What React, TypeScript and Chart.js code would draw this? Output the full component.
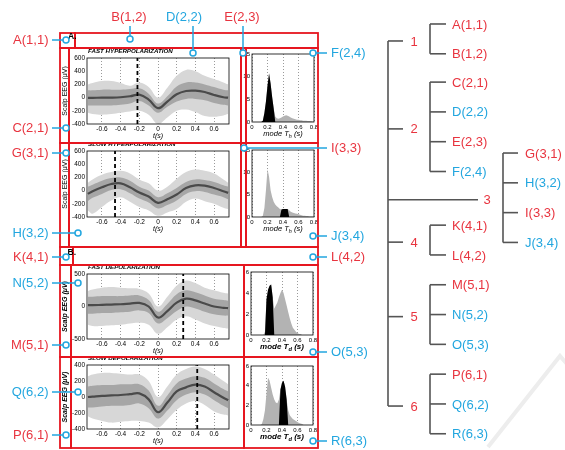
import React, { useEffect, useRef } from 'react';
import { Chart, registerables } from 'chart.js';

Chart.register(...registerables);

const FONT = "'Liberation Sans', Arial, Helvetica, sans-serif";
Chart.defaults.font.family = FONT;
Chart.defaults.color = '#000';

// ---------- waveform panels (time in s, amplitude in µV) ----------
const T = [-0.75, -0.7, -0.6, -0.5, -0.4, -0.3, -0.2, -0.1, 0, 0.1, 0.2, 0.3, 0.4, 0.5, 0.6, 0.7, 0.75];
const T_TICKS = [-0.6, -0.4, -0.2, 0, 0.2, 0.4, 0.6];

// fast hyperpolarization
const FH_MEAN = [-5, -5, 0, 0, 5, 20, 45, -30, -160, -60, 50, 100, 105, 85, 40, 5, 0];
const FH_IN_HI = [110, 110, 120, 120, 120, 130, 140, 60, -90, 20, 170, 230, 230, 200, 160, 120, 110];
const FH_IN_LO = [-120, -120, -120, -120, -110, -90, -50, -120, -230, -140, -60, -20, -20, -40, -80, -110, -120];
const FH_OUT_HI = [200, 220, 250, 250, 220, 180, 230, 160, 0, 150, 330, 420, 400, 330, 280, 230, 200];
const FH_OUT_LO = [-230, -250, -260, -250, -230, -210, -200, -260, -400, -300, -200, -180, -220, -280, -290, -270, -250];
const FH_MARK = -0.22;

// slow hyperpolarization
const SH_MEAN = [-50, -10, 50, 100, 110, 50, -30, -90, -185, -130, -60, 40, 80, 75, 40, -10, -35];
const SH_IN_HI = [60, 90, 150, 190, 200, 150, 60, 0, -100, -40, 40, 130, 170, 160, 130, 80, 60];
const SH_IN_LO = [-160, -110, -50, 10, 20, -40, -120, -180, -270, -220, -150, -50, -10, -20, -60, -100, -130];
const SH_OUT_HI = [120, 170, 240, 280, 300, 260, 170, 110, 0, 60, 180, 280, 320, 300, 260, 170, 120];
const SH_OUT_LO = [-300, -350, -250, -150, -100, -170, -250, -300, -380, -330, -280, -170, -120, -160, -200, -260, -280];
const SH_MARK = -0.46;

// fast depolarization
const FD_MEAN = [20, 20, 25, 30, 35, 45, 55, 0, -170, -70, 60, 120, 95, 45, 0, -20, -25];
const FD_IN_HI = [150, 150, 160, 160, 160, 170, 170, 100, -80, 40, 190, 250, 220, 170, 120, 100, 90];
const FD_IN_LO = [-110, -110, -100, -100, -90, -80, -60, -100, -260, -180, -70, 0, -30, -80, -120, -140, -140];
const FD_OUT_HI = [240, 260, 290, 300, 290, 280, 270, 200, 0, 150, 320, 400, 360, 290, 250, 210, 200];
const FD_OUT_LO = [-280, -300, -300, -290, -280, -260, -250, -280, -420, -320, -200, -150, -200, -260, -300, -330, -340];
const FD_MARK = 0.27;

// slow depolarization
const SD_MEAN = [0, 5, 15, 20, 25, 35, 45, -30, -190, -70, 70, 120, 155, 130, 60, -10, -40];
const SD_IN_HI = [130, 140, 150, 150, 160, 160, 160, 80, -110, 20, 170, 230, 260, 240, 170, 100, 70];
const SD_IN_LO = [-130, -130, -120, -110, -110, -100, -80, -140, -270, -170, -40, 30, 60, 30, -40, -110, -140];
const SD_OUT_HI = [260, 280, 300, 300, 290, 280, 280, 200, 0, 130, 280, 350, 380, 350, 280, 200, 160];
const SD_OUT_LO = [-240, -270, -300, -320, -310, -300, -300, -320, -380, -280, -160, -80, -50, -100, -180, -220, -230];
const SD_MARK = 0.42;

const Y_TICKS_HYPER = [-400, -200, 0, 200, 400, 600];
const Y_TICKS_FD = [-500, 0, 500];
const Y_TICKS_SD = [-400, -200, 0, 200, 400];

// ---------- histograms of mode T (s) ----------
const HB = [0, 0.02, 0.04, 0.06, 0.08, 0.1, 0.12, 0.14, 0.16, 0.18, 0.2, 0.22, 0.24, 0.26, 0.28, 0.3, 0.32, 0.34, 0.36, 0.38, 0.4, 0.42, 0.44, 0.46, 0.48, 0.5, 0.52, 0.54, 0.56, 0.58, 0.6, 0.62, 0.64, 0.66, 0.68, 0.7, 0.72, 0.74, 0.76, 0.78, 0.8];
const H_TICKS = [0, 0.2, 0.4, 0.6, 0.8];

const H1_ALL = [0, 0, 0, 0, 0, 0, 0, 0.3, 2, 4.5, 8, 10.7, 8.5, 5.5, 3, 1.2, 0.8, 0.7, 0.8, 1.0, 1.2, 1.4, 1.5, 1.4, 1.2, 1.0, 0.8, 0.7, 0.6, 0.5, 0.5, 0.4, 0.4, 0.3, 0.3, 0.3, 0.2, 0.2, 0.2, 0.1, 0];
const H1_SEL = [0, 0, 0, 0, 0, 0, 0, 0.3, 2, 4.5, 8, 10.7, 8.5, 5.5, 3, 0, 0, 0, 0, 0, 0, 0, 0, 0, 0, 0, 0, 0, 0, 0, 0, 0, 0, 0, 0, 0, 0, 0, 0, 0, 0];
const H2_ALL = [0, 0, 0, 0, 0, 0, 0, 0.3, 2, 6, 10.7, 9, 6, 4.5, 3.4, 2.8, 2.4, 2.1, 1.8, 1.7, 1.8, 1.8, 1.8, 1.8, 1.5, 1.2, 1.0, 0.9, 0.8, 0.7, 0.6, 0.5, 0.4, 0.3, 0.3, 0.2, 0.2, 0.1, 0.1, 0.1, 0];
const H2_SEL = [0, 0, 0, 0, 0, 0, 0, 0, 0, 0, 0, 0, 0, 0, 0, 0, 0, 0, 0, 1.7, 1.8, 1.8, 1.8, 1.8, 0, 0, 0, 0, 0, 0, 0, 0, 0, 0, 0, 0, 0, 0, 0, 0, 0];
const H3_ALL = [0, 0, 0, 0, 0, 0, 0, 0, 0, 0.3, 3.4, 4.3, 4.7, 4.8, 3.6, 2.5, 2.8, 3.1, 3.6, 4.0, 4.3, 4.0, 3.4, 2.8, 2.2, 1.6, 1.1, 0.7, 0.5, 0.3, 0.2, 0.1, 0.1, 0, 0, 0, 0, 0, 0, 0, 0];
const H3_SEL = [0, 0, 0, 0, 0, 0, 0, 0, 0, 0, 3.4, 4.3, 4.7, 4.8, 3.6, 0, 0, 0, 0, 0, 0, 0, 0, 0, 0, 0, 0, 0, 0, 0, 0, 0, 0, 0, 0, 0, 0, 0, 0, 0, 0];
const H4_ALL = [0, 0, 0, 0, 0, 0, 0, 0.1, 0.6, 1.5, 3.2, 4.8, 4.5, 3.8, 3.1, 2.6, 2.3, 2.2, 2.6, 3.6, 4.3, 4.5, 3.9, 2.6, 1.5, 1.0, 0.8, 0.6, 0.5, 0.4, 0.3, 0.2, 0.15, 0.1, 0, 0, 0, 0, 0, 0, 0];
const H4_SEL = [0, 0, 0, 0, 0, 0, 0, 0, 0, 0, 0, 0, 0, 0, 0, 0, 0, 0, 0, 3.6, 4.3, 4.5, 3.9, 2.6, 0, 0, 0, 0, 0, 0, 0, 0, 0, 0, 0, 0, 0, 0, 0, 0, 0];
const H_TICKS_15 = [0, 5, 10, 15];
const H_TICKS_6 = [0, 2, 4, 6];

// ---------- tree ----------
const GROUP_LABELS = ['1', '2', '3', '4', '5', '6'];
const GROUP_LEAVES = [
  ['A(1,1)', 'B(1,2)'],
  ['C(2,1)', 'D(2,2)', 'E(2,3)', 'F(2,4)'],
  ['G(3,1)', 'H(3,2)', 'I(3,3)', 'J(3,4)'],
  ['K(4,1)', 'L(4,2)'],
  ['M(5,1)', 'N(5,2)', 'O(5,3)'],
  ['P(6,1)', 'Q(6,2)', 'R(6,3)'],
];
const GROUP_FIRST_ROW = [0, 1.95, 4.33, 6.75, 8.75, 11.75];
const GROUP_OUTER = [false, false, true, false, false, false];
const BLUE_NAMES = ['D(2,2)', 'F(2,4)', 'H(3,2)', 'J(3,4)', 'N(5,2)', 'O(5,3)', 'Q(6,2)', 'R(6,3)'];

// ---------- callout annotations ----------
const LEFT_CALLOUTS: [string, number, number][] = [
  ['A(1,1)', 40, 66], ['C(2,1)', 128, 66], ['G(3,1)', 153, 66], ['H(3,2)', 233, 78],
  ['K(4,1)', 257, 66], ['N(5,2)', 283, 78], ['M(5,1)', 345, 66], ['Q(6,2)', 392, 78], ['P(6,1)', 435, 66],
];
const TOP_CALLOUTS: [string, number, number, number][] = [
  ['B(1,2)', 129, 130, 39], ['D(2,2)', 184, 193, 53], ['E(2,3)', 242, 243, 53],
];
const RIGHT_CALLOUTS: [string, number, number][] = [
  ['F(2,4)', 53, 313], ['I(3,3)', 148, 244], ['J(3,4)', 236, 313], ['L(4,2)', 257, 313], ['O(5,3)', 352, 313], ['R(6,3)', 441, 313],
];
const BOXES: [number, number, number, number][] = [
  [60, 33, 75, 48], [75, 33, 318, 48],
  [60, 48, 69, 143], [69, 48, 241, 143], [241, 48, 246, 143], [246, 48, 318, 143],
  [60, 143, 69, 247], [69, 143, 241, 247], [241, 143, 246, 247], [246, 143, 318, 247],
  [60, 247, 73, 265], [73, 247, 318, 265],
  [60, 265, 71, 357], [71, 265, 244, 357], [244, 265, 318, 357],
  [60, 357, 71, 448], [71, 357, 244, 448], [244, 357, 318, 448],
];

const RED_TEXT = '#e8343f';
const BLUE = '#22a6df';
const BOX_RED = '#e6161f';

const zip = (xs: number[], ys: number[]) => xs.map((x, i) => ({ x, y: ys[i] }));
const fmt1 = (v: number) => String(Math.round(v * 10) / 10);

const framePlugin = {
  id: 'frame',
  afterDatasetsDraw(chart: any) {
    const { ctx, chartArea: a } = chart;
    ctx.save();
    ctx.strokeStyle = '#000';
    ctx.lineWidth = 0.8;
    ctx.strokeRect(a.left, a.top, a.right - a.left, a.bottom - a.top);
    ctx.restore();
  },
};

const titlePlugin = (text: string) => ({
  id: 'panelTitle',
  afterDraw(chart: any) {
    const { ctx, chartArea: a } = chart;
    ctx.save();
    ctx.fillStyle = '#000';
    ctx.font = `italic bold 6.2px ${FONT}`;
    ctx.textBaseline = 'middle';
    ctx.textAlign = 'left';
    ctx.fillText(text, a.left + 1, a.top - 6.5);
    ctx.restore();
  },
});

const histLabelPlugin = (sub: string, size: number, bold: boolean) => ({
  id: 'histLabel',
  afterDraw(chart: any) {
    const { ctx, chartArea: a } = chart;
    const f = `italic ${bold ? 'bold ' : ''}${size}px ${FONT}`;
    const fs = `italic ${bold ? 'bold ' : ''}${size * 0.72}px ${FONT}`;
    ctx.save();
    ctx.fillStyle = '#000';
    ctx.textBaseline = 'middle';
    ctx.textAlign = 'left';
    ctx.font = f;
    const w1 = ctx.measureText('mode T').width;
    const w3 = ctx.measureText(' (s)').width;
    ctx.font = fs;
    const w2 = ctx.measureText(sub).width;
    let x = (a.left + a.right) / 2 - (w1 + w2 + w3) / 2;
    const y = a.bottom + 12;
    ctx.font = f;
    ctx.fillText('mode T', x, y);
    x += w1;
    ctx.font = fs;
    ctx.fillText(sub, x, y + size * 0.3);
    x += w2;
    ctx.font = f;
    ctx.fillText(' (s)', x, y);
    ctx.restore();
  },
});

type Panel = {
  title: string; mean: number[]; inHi: number[]; inLo: number[]; outHi: number[]; outLo: number[];
  mark: number; yMin: number; yMax: number; yTicks: number[]; boldLabel: boolean;
};

function lineConfig(p: Panel): any {
  const band = (ys: number[], color: string, fill: any) => ({
    data: zip(T, ys), borderColor: 'rgba(0,0,0,0)', borderWidth: 0, pointRadius: 0, tension: 0.4, fill, backgroundColor: color,
  });
  return {
    type: 'line',
    data: {
      datasets: [
        { data: [{ x: p.mark, y: p.yMin }, { x: p.mark, y: p.yMax }], borderColor: '#000', borderWidth: 1.8, borderDash: [4, 3], pointRadius: 0, fill: false },
        { data: zip(T, p.mean), borderColor: '#4a4a4a', borderWidth: 2.2, pointRadius: 0, tension: 0.4, fill: false },
        band(p.inHi, '#a6a6a6', '+1'),
        band(p.inLo, '#a6a6a6', false),
        band(p.outHi, '#d7d7d7', '+1'),
        band(p.outLo, '#d7d7d7', false),
      ],
    },
    options: {
      animation: false, responsive: false, devicePixelRatio: 1, events: [],
      layout: { padding: { top: 10, right: 4, left: 0, bottom: 0 } },
      plugins: { legend: { display: false }, tooltip: { enabled: false } },
      scales: {
        x: {
          type: 'linear', min: -0.76, max: 0.76,
          afterBuildTicks: (s: any) => { s.ticks = T_TICKS.map((v) => ({ value: v })); },
          afterFit: (s: any) => { s.height = 16; s.paddingLeft = 0; s.paddingRight = 0; },
          ticks: { font: { size: 6.5 }, padding: 1, maxRotation: 0, autoSkip: false, callback: (v: any) => fmt1(Number(v)) },
          grid: { display: true, drawTicks: false, color: '#555', lineWidth: 0.6 },
          border: { display: false, dash: [1, 2] },
          title: { display: true, text: 't(s)', padding: 0, font: { size: 7, style: 'italic' } },
        },
        y: {
          type: 'linear', min: p.yMin, max: p.yMax,
          afterBuildTicks: (s: any) => { s.ticks = p.yTicks.map((v) => ({ value: v })); },
          afterFit: (s: any) => { s.width = 26; s.paddingTop = 0; s.paddingBottom = 0; },
          ticks: { font: { size: 6.5 }, padding: 2, autoSkip: false },
          grid: { display: false, drawTicks: false },
          border: { display: false },
          title: {
            display: true, text: 'Scalp EEG (\u03bcV)', padding: 0,
            font: p.boldLabel ? { size: 7, style: 'italic', weight: 'bold' } : { size: 7 },
          },
        },
      },
    },
    plugins: [framePlugin, titlePlugin(p.title)],
  };
}

type Hist = { all: number[]; sel: number[]; yMax: number; yTicks: number[]; sub: string; bold: boolean; size: number };

function histConfig(h: Hist): any {
  return {
    type: 'line',
    data: {
      datasets: [
        { data: zip(HB, h.sel), tension: 0, fill: 'origin', backgroundColor: '#000', borderColor: 'rgba(0,0,0,0)', borderWidth: 0, pointRadius: 0 },
        { data: zip(HB, h.all), tension: 0, fill: 'origin', backgroundColor: '#b3b3b3', borderColor: 'rgba(0,0,0,0)', borderWidth: 0, pointRadius: 0 },
      ],
    },
    options: {
      animation: false, responsive: false, devicePixelRatio: 1, events: [],
      layout: { padding: { top: 5, right: 6, left: 0, bottom: 0 } },
      plugins: { legend: { display: false }, tooltip: { enabled: false } },
      scales: {
        x: {
          type: 'linear', min: 0, max: 0.8,
          afterBuildTicks: (s: any) => { s.ticks = H_TICKS.map((v) => ({ value: v })); },
          afterFit: (s: any) => { s.height = 16; s.paddingLeft = 0; s.paddingRight = 0; },
          ticks: { font: { size: 6 }, padding: 2, maxRotation: 0, autoSkip: false, callback: (v: any) => fmt1(Number(v)) },
          grid: { display: true, drawTicks: false, color: '#555', lineWidth: 0.6 },
          border: { display: false, dash: [1, 2] },
        },
        y: {
          type: 'linear', min: 0, max: h.yMax,
          afterBuildTicks: (s: any) => { s.ticks = h.yTicks.map((v) => ({ value: v })); },
          afterFit: (s: any) => { s.width = 14; s.paddingTop = 0; s.paddingBottom = 0; },
          ticks: { font: { size: 6 }, padding: 2, autoSkip: false },
          grid: { display: false, drawTicks: false },
          border: { display: false },
        },
      },
    },
    plugins: [framePlugin, histLabelPlugin(h.sub, h.size, h.bold)],
  };
}

// tree horizontal layout (tree canvas px)
const TX_IN = { trunk: 8, stub: 23, num: 34, bracket: 50, leafStub: 66, leafText: 72 };
const TX_OUT = { trunk: 8, stub: 98, num: 107, bracket: 123, leafStub: 138, leafText: 145 };

function treeConfig(): any {
  const branch = GROUP_LEAVES.map((lv, g) => GROUP_FIRST_ROW[g] + (lv.length - 1) / 2 + 0.07);
  const segs: { x: number; y: number }[][] = [];
  segs.push([{ x: TX_IN.trunk, y: branch[0] }, { x: TX_IN.trunk, y: branch[branch.length - 1] }]);
  GROUP_LEAVES.forEach((lv, g) => {
    const o = GROUP_OUTER[g] ? TX_OUT : TX_IN;
    const r0 = GROUP_FIRST_ROW[g];
    segs.push([{ x: o.trunk, y: branch[g] }, { x: o.stub, y: branch[g] }]);
    segs.push([{ x: o.bracket, y: r0 }, { x: o.bracket, y: r0 + lv.length - 1 }]);
    lv.forEach((_, i) => segs.push([{ x: o.bracket, y: r0 + i }, { x: o.leafStub, y: r0 + i }]));
  });
  const labels = {
    id: 'treeLabels',
    beforeDatasetsDraw(chart: any) {
      const { ctx } = chart;
      const sx = chart.scales.x;
      // faint watermark stroke
      ctx.save();
      ctx.strokeStyle = '#ededed';
      ctx.lineWidth = 4;
      ctx.lineJoin = 'miter';
      ctx.beginPath();
      ctx.moveTo(sx.getPixelForValue(108), 447);
      ctx.lineTo(sx.getPixelForValue(180), 356);
      ctx.lineTo(sx.getPixelForValue(187), 364);
      ctx.stroke();
      ctx.restore();
    },
    afterDatasetsDraw(chart: any) {
      const { ctx } = chart;
      const sx = chart.scales.x, sy = chart.scales.y;
      ctx.save();
      ctx.font = `13px ${FONT}`;
      ctx.textBaseline = 'middle';
      GROUP_LEAVES.forEach((lv, g) => {
        const o = GROUP_OUTER[g] ? TX_OUT : TX_IN;
        ctx.textAlign = 'center';
        ctx.fillStyle = RED_TEXT;
        ctx.fillText(GROUP_LABELS[g], sx.getPixelForValue(o.num), sy.getPixelForValue(branch[g]) + 1);
        ctx.textAlign = 'left';
        lv.forEach((name, i) => {
          ctx.fillStyle = BLUE_NAMES.includes(name) ? BLUE : RED_TEXT;
          ctx.fillText(name, sx.getPixelForValue(o.leafText), sy.getPixelForValue(GROUP_FIRST_ROW[g] + i) + 1);
        });
      });
      ctx.restore();
    },
  };
  return {
    type: 'scatter',
    data: {
      datasets: segs.map((s) => ({ data: s, showLine: true, borderColor: '#555', borderWidth: 1.6, pointRadius: 0, fill: false })),
    },
    options: {
      animation: false, responsive: false, devicePixelRatio: 1, events: [],
      layout: { padding: 0 },
      plugins: { legend: { display: false }, tooltip: { enabled: false } },
      scales: {
        x: { type: 'linear', min: 0, max: 185, display: false },
        y: { type: 'linear', min: -0.805, max: 14.295, reverse: true, display: false },
      },
    },
    plugins: [labels],
  };
}

function overlayConfig(): any {
  const draw = {
    id: 'annotations',
    afterDraw(chart: any) {
      const { ctx } = chart;
      ctx.save();
      ctx.strokeStyle = BOX_RED;
      ctx.lineWidth = 1.8;
      BOXES.forEach(([x0, y0, x1, y1]) => ctx.strokeRect(x0, y0, x1 - x0, y1 - y0));
      ctx.fillStyle = '#000';
      ctx.font = `bold 8.5px ${FONT}`;
      ctx.textBaseline = 'middle';
      ctx.textAlign = 'left';
      ctx.fillText('A.', 68, 37);
      ctx.fillText('B.', 67.5, 252.5);

      const circle = (x: number, y: number) => {
        ctx.beginPath();
        ctx.arc(x, y, 3, 0, Math.PI * 2);
        ctx.fillStyle = '#fff';
        ctx.fill();
        ctx.strokeStyle = BLUE;
        ctx.lineWidth = 1.5;
        ctx.stroke();
      };
      const seg = (x0: number, y0: number, x1: number, y1: number) => {
        ctx.beginPath();
        ctx.moveTo(x0, y0);
        ctx.lineTo(x1, y1);
        ctx.strokeStyle = BLUE;
        ctx.lineWidth = 1.5;
        ctx.stroke();
      };
      const label = (name: string, x: number, y: number, align: CanvasTextAlign) => {
        ctx.font = `13px ${FONT}`;
        ctx.textAlign = align;
        ctx.textBaseline = 'middle';
        ctx.fillStyle = BLUE_NAMES.includes(name) ? BLUE : RED_TEXT;
        ctx.fillText(name, x, y);
      };
      LEFT_CALLOUTS.forEach(([name, y, cx]) => {
        seg(52, y, cx - 3, y);
        circle(cx, y);
        label(name, 48.5, y + 0.5, 'right');
      });
      TOP_CALLOUTS.forEach(([name, tx, lx, cy]) => {
        seg(lx, 26, lx, cy - 3);
        circle(lx, cy);
        label(name, tx, 17, 'center');
      });
      RIGHT_CALLOUTS.forEach(([name, y, cx]) => {
        seg(cx + 3, y, 327, y);
        circle(cx, y);
        label(name, 331, y + 0.5, 'left');
      });
      ctx.restore();
    },
  };
  return {
    type: 'scatter',
    data: { datasets: [] },
    options: {
      animation: false, responsive: false, devicePixelRatio: 1, events: [],
      plugins: { legend: { display: false }, tooltip: { enabled: false } },
      scales: { x: { display: false }, y: { display: false } },
    },
    plugins: [draw],
  };
}

function ChartCanvas(props: { left: number; top: number; width: number; height: number; z: number; make: () => any }) {
  const ref = useRef<HTMLCanvasElement>(null);
  useEffect(() => {
    const chart = new Chart(ref.current as HTMLCanvasElement, props.make());
    return () => chart.destroy();
  }, []);
  return (
    <canvas
      ref={ref}
      width={props.width}
      height={props.height}
      style={{ position: 'absolute', left: props.left, top: props.top, width: props.width, height: props.height, zIndex: props.z, pointerEvents: 'none' }}
    />
  );
}

const PANELS: { top: number; bottom: number; p: Panel }[] = [
  { top: 58, bottom: 124, p: { title: 'FAST HYPERPOLARIZATION', mean: FH_MEAN, inHi: FH_IN_HI, inLo: FH_IN_LO, outHi: FH_OUT_HI, outLo: FH_OUT_LO, mark: FH_MARK, yMin: -400, yMax: 600, yTicks: Y_TICKS_HYPER, boldLabel: false } },
  { top: 151, bottom: 217, p: { title: 'SLOW HYPERPOLARIZATION', mean: SH_MEAN, inHi: SH_IN_HI, inLo: SH_IN_LO, outHi: SH_OUT_HI, outLo: SH_OUT_LO, mark: SH_MARK, yMin: -400, yMax: 600, yTicks: Y_TICKS_HYPER, boldLabel: false } },
  { top: 274, bottom: 339, p: { title: 'FAST DEPOLARIZATION', mean: FD_MEAN, inHi: FD_IN_HI, inLo: FD_IN_LO, outHi: FD_OUT_HI, outLo: FD_OUT_LO, mark: FD_MARK, yMin: -500, yMax: 500, yTicks: Y_TICKS_FD, boldLabel: true } },
  { top: 365, bottom: 429, p: { title: 'SLOW DEPOLARIZATION', mean: SD_MEAN, inHi: SD_IN_HI, inLo: SD_IN_LO, outHi: SD_OUT_HI, outLo: SD_OUT_LO, mark: SD_MARK, yMin: -400, yMax: 400, yTicks: Y_TICKS_SD, boldLabel: true } },
];

const HISTS: { left: number; right: number; top: number; bottom: number; h: Hist }[] = [
  { left: 252, right: 314, top: 54, bottom: 122, h: { all: H1_ALL, sel: H1_SEL, yMax: 15, yTicks: H_TICKS_15, sub: 'h', bold: false, size: 7.5 } },
  { left: 252, right: 314, top: 150, bottom: 217, h: { all: H2_ALL, sel: H2_SEL, yMax: 15, yTicks: H_TICKS_15, sub: 'h', bold: false, size: 7.5 } },
  { left: 251, right: 313, top: 272, bottom: 335, h: { all: H3_ALL, sel: H3_SEL, yMax: 6, yTicks: H_TICKS_6, sub: 'd', bold: true, size: 8 } },
  { left: 251, right: 313, top: 366, bottom: 425, h: { all: H4_ALL, sel: H4_SEL, yMax: 6, yTicks: H_TICKS_6, sub: 'd', bold: true, size: 8 } },
];

export default function App() {
  return (
    <div style={{ position: 'absolute', left: 0, top: 0, width: 565, height: 450, background: '#fff', overflow: 'hidden' }}>
      {PANELS.map((d, i) => (
        <ChartCanvas key={'p' + i} left={61} top={d.top - 10} width={172} height={10 + (d.bottom - d.top) + 16} z={1} make={() => lineConfig(d.p)} />
      ))}
      {HISTS.map((d, i) => (
        <ChartCanvas key={'h' + i} left={d.left - 14} top={d.top - 5} width={14 + (d.right - d.left) + 6} height={5 + (d.bottom - d.top) + 16} z={1} make={() => histConfig(d.h)} />
      ))}
      <ChartCanvas left={380} top={0} width={185} height={450} z={1} make={treeConfig} />
      <ChartCanvas left={0} top={0} width={380} height={450} z={2} make={overlayConfig} />
    </div>
  );
}
